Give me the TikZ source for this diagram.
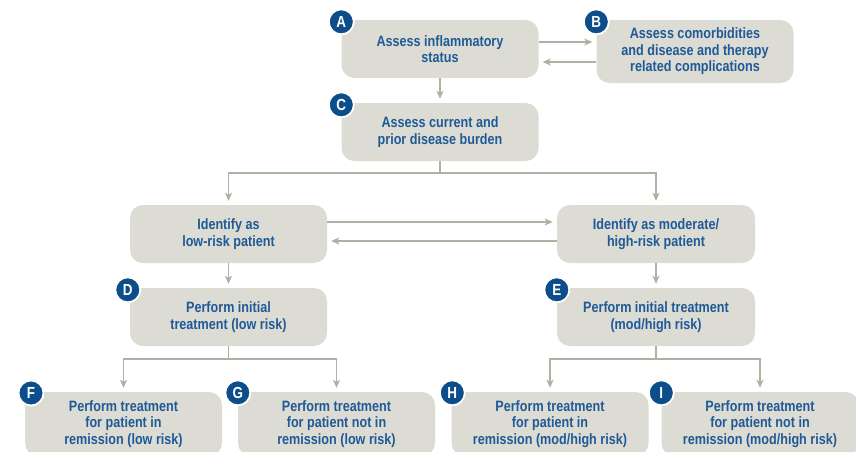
\documentclass[tikz,border=0pt]{standalone}
\usepackage{fontspec}
\setmainfont{Liberation Sans}[FakeStretch=0.84]
\usetikzlibrary{arrows.meta}
\definecolor{boxfill}{HTML}{DDDCD4}
\definecolor{txtblue}{HTML}{1F5A96}
\definecolor{badgeblue}{HTML}{0D4E8A}
\definecolor{arrgray}{HTML}{B0B1A5}
\tikzset{
  stepbox/.style={rectangle, rounded corners=13pt, fill=boxfill, draw=none,
    minimum width=197pt, minimum height=58pt, inner sep=0pt, align=center,
    text=txtblue, font=\bfseries\fontsize{15}{16.5}\selectfont},
  badge/.style={circle, fill=badgeblue, draw=white, line width=1.8pt,
    minimum size=25pt, inner sep=0pt, text=white,
    font=\bfseries\fontsize{16}{16}\selectfont},
  conn/.style={draw=arrgray, line width=1.1pt},
  arr/.style={conn, -{Stealth[length=8pt,width=7pt,inset=2pt]}, shorten >=4pt},
}
\begin{document}
\begin{tikzpicture}[x=1pt,y=-1pt]
\clip (0,0) rectangle (856,451);
\fill[white] (0,0) rectangle (856,451);

\node[stepbox] (A) at (440,49) {Assess inflammatory\\status};
\node[stepbox, minimum height=63pt] (B) at (695,51.5) {Assess comorbidities\\and disease and therapy\\related complications};
\node[stepbox] (C) at (440,132) {Assess current and\\prior disease burden};
\node[stepbox] (L) at (228.5,234) {Identify as\\low-risk patient};
\node[stepbox, minimum width=198pt] (M) at (656,234) {Identify as moderate/\\high-risk patient};
\node[stepbox] (D) at (228.5,317) {Perform initial\\treatment (low risk)};
\node[stepbox, minimum width=198pt] (E) at (656,317) {Perform initial treatment\\(mod/high risk)};
\node[stepbox, minimum height=64pt] (F) at (123.5,424) {Perform treatment\\for patient in\\remission (low risk)};
\node[stepbox, minimum height=64pt] (G) at (336.5,424) {Perform treatment\\for patient not in\\remission (low risk)};
\node[stepbox, minimum height=64pt] (H) at (550,424) {Perform treatment\\for patient in\\remission (mod/high risk)};
\node[stepbox, minimum height=64pt] (I) at (760,424) {Perform treatment\\for patient not in\\remission (mod/high risk)};

% badges
\node[badge] (bA) at ([yshift=-2pt]A.north west) {A};
\node[badge] (bB) at ([yshift=-2pt]B.north west) {B};
\node[badge] (bC) at ([yshift=-2pt]C.north west) {C};
\node[badge] (bD) at ([xshift=-2pt,yshift=-2pt]D.north west) {D};
\node[badge] (bE) at ([yshift=-2pt]E.north west) {E};
\node[badge] (bF) at (31,393) {F};
\node[badge] (bG) at ([yshift=-1pt]G.north west) {G};
\node[badge] (bH) at ([xshift=1pt,yshift=-1pt]H.north west) {H};
\node[badge] (bI) at ([yshift=-1pt]I.north west) {I};

% A <-> B
\draw[arr] ([yshift=7pt]A.east) -- ([yshift=7pt]A.east -| B.west);
\draw[arr] ([yshift=-10.5pt]B.west) -- ([yshift=-10.5pt]B.west -| A.east);
% A -> C
\draw[arr] (A.south) -- (C.north);
% C -> L, M
\coordinate (c1) at (440,173);
\draw[conn] (C.south) -- (c1);
\draw[arr] (c1) -| (L.north);
\draw[arr] (c1) -| (M.north);
% L <-> M
\draw[arr] ([yshift=12pt]L.east) -- ([yshift=12pt]L.east -| M.west);
\draw[arr] ([yshift=-7pt]M.west) -- ([yshift=-7pt]M.west -| L.east);
% L -> D, M -> E
\draw[arr] (L.south) -- (D.north);
\draw[arr] (M.south) -- (E.north);
% D -> F, G
\coordinate (d1) at (228.5,359);
\draw[conn] (D.south) -- (d1);
\draw[arr] (d1) -| (F.north);
\draw[arr] (d1) -| (G.north);
% E -> H, I
\coordinate (e1) at (656,359);
\draw[conn] (E.south) -- (e1);
\draw[arr] (e1) -| (H.north);
\draw[arr] (e1) -| (I.north);
\end{tikzpicture}
\end{document}
